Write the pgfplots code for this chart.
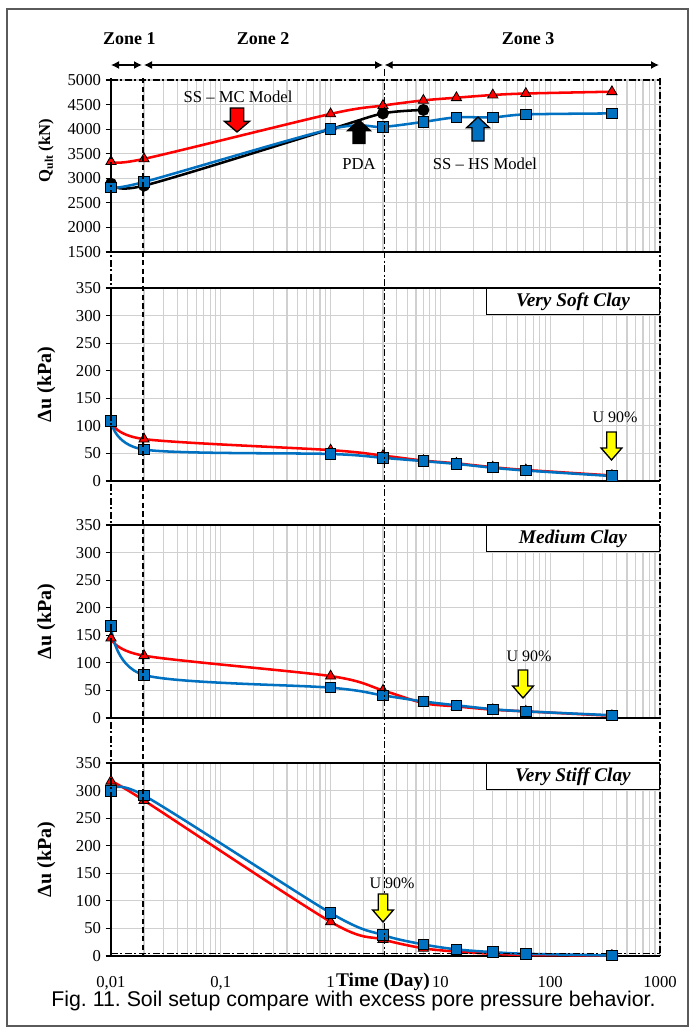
\documentclass[border=0pt]{standalone}
\usepackage{fontspec}
\setmainfont{Liberation Serif}
\newfontfamily\arialfont{Liberation Sans}
\usepackage{pgfplots}
\pgfplotsset{compat=1.18}
\usetikzlibrary{arrows.meta}
\frenchspacing
\definecolor{mcred}{RGB}{255,0,0}
\definecolor{hsblue}{RGB}{0,112,192}
\definecolor{uyellow}{RGB}{255,255,0}
\definecolor{gridgray}{RGB}{208,208,208}
\definecolor{framegray}{RGB}{90,90,90}
\newcommand{\fs}[1]{\fontsize{#1}{#1}\selectfont}
\newcommand{\barrow}[7]{\draw[fill=#3, line width=1pt, line join=miter, shift={#1}, rotate=#2]
 (0,0) -- (-#4,#7) -- (-#5,#7) -- (-#5,#6) -- (#5,#6) -- (#5,#7) -- (#4,#7) -- cycle;}
\tikzset{dashdot/.style={line width=0.9pt, dash pattern=on 5pt off 2pt on 1.5pt off 2pt},
  claybox/.style={draw, fill=white, line width=0.8pt, anchor=north east, minimum width=129.75pt, minimum height=19.5pt, inner sep=0pt, font=\bfseries\itshape\fs{14.5}}}
\pgfplotsset{
  serMC/.style={color=mcred, line width=1.9pt, smooth, mark=triangle*, mark size=4.4pt, mark options={fill=mcred, draw=black, line width=0.6pt}},
  serHS/.style={color=hsblue, line width=1.9pt, smooth, mark=square*, mark size=3.9pt, mark options={fill=hsblue, draw=black, line width=0.7pt}},
  serPDA/.style={color=black, line width=1.9pt, smooth, mark=*, mark size=3.5pt, mark options={fill=black, draw=black}},
  every axis/.append style={
    scale only axis, width=411.75pt,
    xmin=0.01, xmax=1000,
    grid=both,
    major grid style={draw=gridgray, line width=0.9pt},
    minor grid style={draw=gridgray, line width=0.9pt},
    axis line style={-, line width=0.9pt, black},
    tick align=outside,
    major tick length=4pt,
    minor tick length=0pt,
    tick label style={font=\fs{12.5}},
    clip=false,
  },
}
\begin{document}
\begin{tikzpicture}
\useasboundingbox[fill=white] (0,0) rectangle (520.5pt,-773.25pt);
\draw[framegray, line width=1.5pt] (5.6pt,-6.4pt) rectangle (516pt,-769.5pt);

% Panel 1
\begin{axis}[xmode=log, anchor=north west, at={(83.25pt,-60pt)}, height=129pt,
  xtick={0.01,0.1,1,10,100,1000},
  minor xtick={0.02,0.03,0.04,0.05,0.06,0.07,0.08,0.09,0.2,0.3,0.4,0.5,0.6,0.7,0.8,0.9,2,3,4,5,6,7,8,9,20,30,40,50,60,70,80,90,200,300,400,500,600,700,800,900},
  axis x line*=bottom, axis y line*=left, xtick style={draw=none}, ytick style={line width=0.9pt, black},
  xticklabels={}, yticklabel style={/pgf/number format/assume math mode=true, /pgf/number format/1000 sep={}},
  ymin=1500, ymax=5000, ytick={1500,2000,2500,3000,3500,4000,4500,5000},
  ylabel={Q\textsubscript{ult} (kN)}, ylabel style={font=\bfseries\fs{12.5}, anchor=center, at={(axis description cs:-0.118,0.59)}}]
\addplot[serPDA] coordinates {(0.01,2890) (0.02,2850) (1,4000) (3,4320) (7,4390)};
\addplot[serMC] coordinates {(0.01,3340) (0.02,3395) (1,4310) (3,4480) (7,4585) (14,4640) (30,4695) (60,4725) (365,4762)};
\addplot[serHS] coordinates {(0.01,2815) (0.02,2925) (1,4000) (3,4045) (7,4148) (14,4240) (30,4240) (60,4300) (365,4320)};
\draw[dashdot] (rel axis cs:0,1) -- (rel axis cs:1,1);
\end{axis}

% Panel 2
\begin{axis}[xmode=log, anchor=north west, at={(83.25pt,-216pt)}, height=144.75pt,
  xtick={0.01,0.1,1,10,100,1000},
  minor xtick={0.02,0.03,0.04,0.05,0.06,0.07,0.08,0.09,0.2,0.3,0.4,0.5,0.6,0.7,0.8,0.9,2,3,4,5,6,7,8,9,20,30,40,50,60,70,80,90,200,300,400,500,600,700,800,900},
  axis x line*=bottom, axis y line*=left, xtick style={draw=none}, ytick style={line width=0.9pt, black},
  xticklabels={}, yticklabel style={/pgf/number format/assume math mode=true},
  ymin=0, ymax=350, ytick={0,50,100,150,200,250,300,350},
  ylabel={Δu (kPa)}, ylabel style={font=\bfseries\fs{15}, anchor=center, at={(axis description cs:-0.118,0.5)}}]
\addplot[serMC] coordinates {(0.01,108) (0.02,76) (1,56) (3,46) (7,37) (14,32) (30,25) (60,20) (365,10)};
\addplot[serHS] coordinates {(0.01,109) (0.02,57) (1,49) (3,42) (7,36) (14,31) (30,24) (60,19) (365,9)};
\draw[line width=0.9pt] (rel axis cs:0,1) -- (rel axis cs:1,1);
\node[claybox] at (rel axis cs:1,1) {Very Soft Clay};
\end{axis}

% Panel 3
\begin{axis}[xmode=log, anchor=north west, at={(83.25pt,-393.75pt)}, height=144.75pt,
  xtick={0.01,0.1,1,10,100,1000},
  minor xtick={0.02,0.03,0.04,0.05,0.06,0.07,0.08,0.09,0.2,0.3,0.4,0.5,0.6,0.7,0.8,0.9,2,3,4,5,6,7,8,9,20,30,40,50,60,70,80,90,200,300,400,500,600,700,800,900},
  axis x line*=bottom, axis y line*=left, xtick style={draw=none}, ytick style={line width=0.9pt, black},
  xticklabels={}, yticklabel style={/pgf/number format/assume math mode=true},
  ymin=0, ymax=350, ytick={0,50,100,150,200,250,300,350},
  ylabel={Δu (kPa)}, ylabel style={font=\bfseries\fs{15}, anchor=center, at={(axis description cs:-0.118,0.5)}}]
\addplot[serMC] coordinates {(0.01,145) (0.02,113) (1,76) (3,50) (7,27) (14,21) (30,15) (60,12) (365,4)};
\addplot[serHS] coordinates {(0.01,167) (0.02,78) (1,55) (3,41) (7,30) (14,23) (30,16) (60,12) (365,5)};
\draw[line width=0.9pt] (rel axis cs:0,1) -- (rel axis cs:1,1);
\node[claybox] at (rel axis cs:1,1) {Medium Clay};
\end{axis}

% Panel 4
\begin{axis}[xmode=log, anchor=north west, at={(83.25pt,-572.25pt)}, height=144.75pt,
  xtick={0.01,0.1,1,10,100,1000},
  minor xtick={0.02,0.03,0.04,0.05,0.06,0.07,0.08,0.09,0.2,0.3,0.4,0.5,0.6,0.7,0.8,0.9,2,3,4,5,6,7,8,9,20,30,40,50,60,70,80,90,200,300,400,500,600,700,800,900},
  axis x line*=bottom, axis y line*=left, xtick style={draw=none}, ytick style={line width=0.9pt, black},
  xticklabels={0{,}01,0{,}1,1,10,100,1000}, xticklabel style={yshift=-8pt},
  yticklabel style={/pgf/number format/assume math mode=true},
  ymin=0, ymax=350, ytick={0,50,100,150,200,250,300,350},
  ylabel={Δu (kPa)}, ylabel style={font=\bfseries\fs{15}, anchor=center, at={(axis description cs:-0.118,0.5)}},
  xlabel={Time (Day)}, xlabel style={font=\bfseries\fs{14.5}, anchor=center, at={(axis description cs:0.4954,0)}, yshift=-19.5pt}]
\addplot[serMC] coordinates {(0.01,317) (0.02,282) (1,62) (3,30) (7,14) (14,8) (30,4) (60,2) (365,1)};
\addplot[serHS] coordinates {(0.01,299) (0.02,291) (1,78) (3,38) (7,21) (14,12) (30,7) (60,4) (365,1)};
\draw[line width=0.9pt] (rel axis cs:0,1) -- (rel axis cs:1,1);
\draw[dashdot] (axis cs:0.01,5) -- (axis cs:1000,5);
\node[claybox] at (rel axis cs:1,1) {Very Stiff Clay};
\end{axis}

% vertical zone lines
\draw[dashdot] (83.25pt,-58.5pt) -- (83.25pt,-717pt);
\draw[line width=0.9pt, dash pattern=on 4pt off 2.5pt] (107.25pt,-58.5pt) -- (107.25pt,-717pt);
\draw[dashdot] (288.5pt,-52pt) -- (288.5pt,-717pt);
\draw[dashdot] (495pt,-58.5pt) -- (495pt,-717pt);

% zones
\node[font=\bfseries\fs{13.5}] at (97.1pt,-29.25pt) {Zone 1};
\node[font=\bfseries\fs{13.5}] at (197.25pt,-29.25pt) {Zone 2};
\node[font=\bfseries\fs{13.5}] at (396pt,-29.25pt) {Zone 3};
\draw[{Latex[length=6pt,width=6pt]}-{Latex[length=6pt,width=6pt]}, line width=1pt] (83.25pt,-48.75pt) -- (106.5pt,-48.75pt);
\draw[{Latex[length=6pt,width=6pt]}-{Latex[length=6pt,width=6pt]}, line width=1pt] (108pt,-48.75pt) -- (287.25pt,-48.75pt);
\draw[{Latex[length=6pt,width=6pt]}-{Latex[length=6pt,width=6pt]}, line width=1pt] (288.5pt,-48.75pt) -- (494.25pt,-48.75pt);

% annotations panel 1
\node[font=\fs{12.5}] at (178.5pt,-72.75pt) {SS -- MC Model};
\node[font=\fs{12.5}] at (269.25pt,-123pt) {PDA};
\node[font=\fs{12.5}] at (363.75pt,-123pt) {SS -- HS Model};
\barrow{(177.75pt,-99pt)}{0}{mcred}{9.4pt}{5pt}{18pt}{8pt}
\barrow{(269.25pt,-90pt)}{180}{black}{8.5pt}{4.5pt}{17.5pt}{8pt}
\barrow{(358.5pt,-87.75pt)}{180}{hsblue}{8.5pt}{4.5pt}{18pt}{8pt}

% U 90% annotations
\node[font=\fs{12}] at (461.25pt,-312.75pt) {U 90\%};
\barrow{(458.6pt,-345pt)}{0}{uyellow}{7.8pt}{3.6pt}{21pt}{9pt}
\node[font=\fs{12}] at (396.75pt,-492pt) {U 90\%};
\barrow{(392.25pt,-523.5pt)}{0}{uyellow}{7.8pt}{3.6pt}{21pt}{9pt}
\node[font=\fs{12}] at (294pt,-662.25pt) {U 90\%};
\barrow{(287.25pt,-691.5pt)}{0}{uyellow}{7.8pt}{3.6pt}{21pt}{9pt}

% caption
\node[font=\arialfont\fs{16}] at (265.1pt,-751pt) {Fig. 11. Soil setup compare with excess pore pressure behavior.};
\end{tikzpicture}
\end{document}
